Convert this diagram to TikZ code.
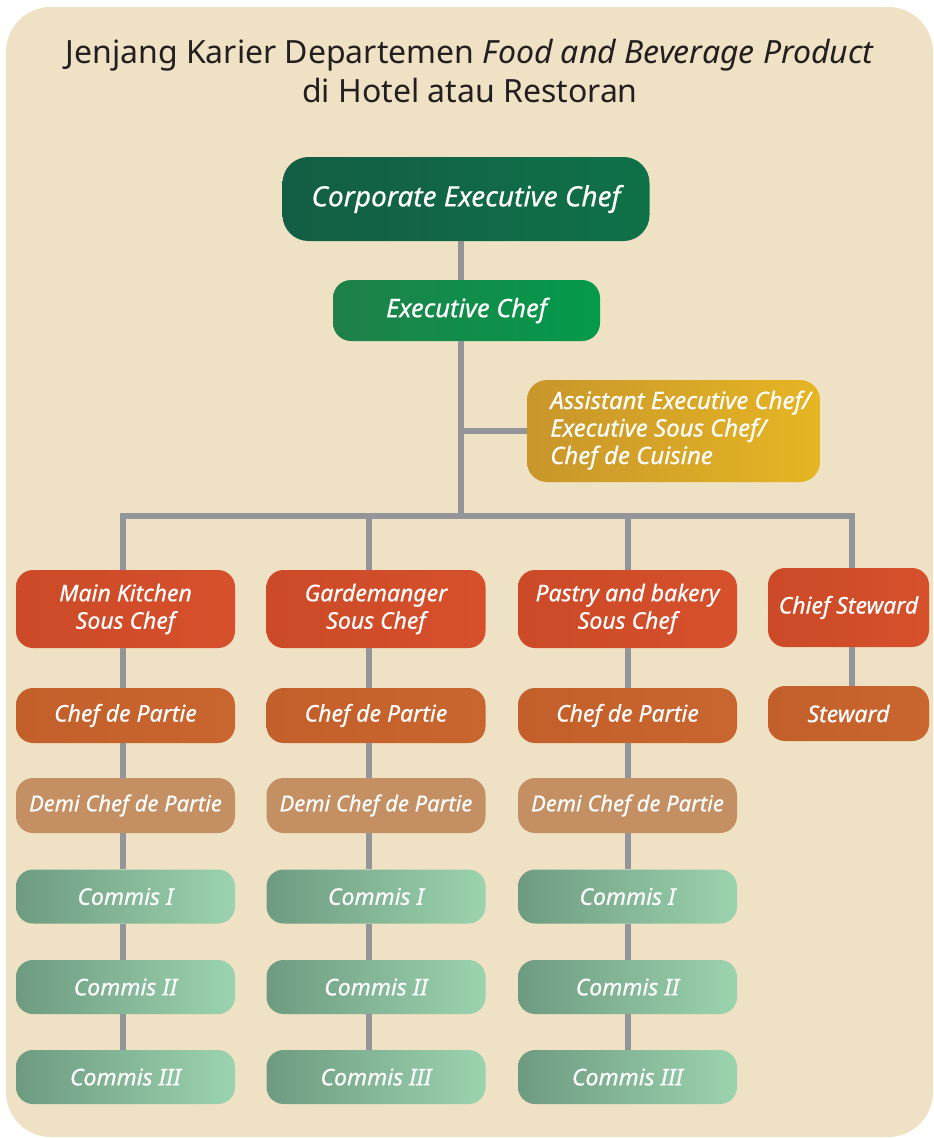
\documentclass[tikz,border=0pt]{standalone}
\usepackage{fontspec}
\setmainfont{Noto Sans}
\newfontfamily\boxfont[FakeBold=0.5]{Noto Sans}
\definecolor{bgpanel}{HTML}{EFE1C3}
\definecolor{conn}{HTML}{939598}
\definecolor{ttl}{HTML}{231F20}
\definecolor{ceoL}{HTML}{135E45}
\definecolor{ceoR}{HTML}{0F7148}
\definecolor{ecL}{HTML}{1F8049}
\definecolor{ecR}{HTML}{039A4B}
\definecolor{asL}{HTML}{C8962B}
\definecolor{asR}{HTML}{E6B523}
\definecolor{ssL}{HTML}{CC4A28}
\definecolor{ssR}{HTML}{D6502B}
\definecolor{cpL}{HTML}{C35F2A}
\definecolor{cpR}{HTML}{C9662F}
\definecolor{dmC}{HTML}{C49063}
\definecolor{cmL}{HTML}{6E9B80}
\definecolor{cmR}{HTML}{9BD3AF}
\begin{document}
\begin{tikzpicture}[x=1pt,y=-1pt,
  box/.style={rounded corners=17pt, text=white, inner sep=0pt, align=center,
    font=\boxfont\fontsize{23}{27.5}\selectfont\itshape},
  wcol/.style={minimum width=219pt},
  wnar/.style={minimum width=161pt},
  sous/.style={box, left color=ssL, right color=ssR, minimum height=78pt},
  cdp/.style={box, left color=cpL, right color=cpR, minimum height=55pt},
  demi/.style={box, fill=dmC, minimum height=55pt, font=\boxfont\fontsize{22}{27}\selectfont\itshape},
  commis/.style={box, left color=cmL, right color=cmR, minimum height=54pt},
  link/.style={draw=conn, line width=5.5pt}]
\useasboundingbox (0,0) rectangle (934,1138);
\fill[white] (0,0) rectangle (934,1138);
\fill[bgpanel, rounded corners=45pt] (6,7) rectangle (933,1137);

\node[font=\fontsize{32}{39}\selectfont, text=ttl, align=center] (title) at (470,71)
  {Jenjang Karier Departemen \textit{Food and Beverage Product}\\di Hotel atau Restoran};

\node[box, rounded corners=26pt, left color=ceoL, right color=ceoR, minimum width=367pt,
  minimum height=84pt, font=\boxfont\fontsize{28}{32}\selectfont\itshape] (ceo) at (466,199) {Corporate Executive Chef};
\node[box, rounded corners=18pt, left color=ecL, right color=ecR, minimum width=267pt,
  minimum height=61pt, font=\boxfont\fontsize{25.5}{30}\selectfont\itshape] (ec) at (466.5,310.5) {Executive Chef};
\node[rounded corners=20pt, text=white, inner sep=0pt, left color=asL, right color=asR, minimum width=293pt,
  minimum height=102pt, font=\boxfont\fontsize{24}{27.5}\selectfont\itshape] (asst) at (673.5,431)
  {\hspace*{14pt}\raisebox{-5pt}{\begin{tabular}{@{}l@{}}Assistant Executive Chef/\\Executive Sous Chef/\\Chef de Cuisine\end{tabular}}};

\coordinate (spine) at (461,0);
\coordinate (d1) at (123,516);
\coordinate (d2) at (369,516);
\coordinate (d3) at (628,516);
\coordinate (d4) at (852,516);

% column 1
\node[sous, wcol] (s1) at (125.5,609) {Main Kitchen\\Sous Chef};
\node[cdp, wcol] (p1) at (125.5,715.5) {Chef de Partie};
\node[demi, wcol] (m1) at (125.5,805.5) {Demi Chef de Partie};
\node[commis, wcol] (a1) at (125.5,896.5) {Commis I};
\node[commis, wcol] (b1) at (125.5,987) {Commis II};
\node[commis, wcol] (c1) at (125.5,1077) {Commis III};
% column 2
\node[sous, wcol] (s2) at (376,609) {Gardemanger\\Sous Chef};
\node[cdp, wcol] (p2) at (376,715.5) {Chef de Partie};
\node[demi, wcol] (m2) at (376,805.5) {Demi Chef de Partie};
\node[commis, wcol] (a2) at (376,896.5) {Commis I};
\node[commis, wcol] (b2) at (376,987) {Commis II};
\node[commis, wcol] (c2) at (376,1077) {Commis III};
% column 3
\node[sous, wcol] (s3) at (627.5,609) {Pastry and bakery\\Sous Chef};
\node[cdp, wcol] (p3) at (627.5,715.5) {Chef de Partie};
\node[demi, wcol] (m3) at (627.5,805.5) {Demi Chef de Partie};
\node[commis, wcol] (a3) at (627.5,896.5) {Commis I};
\node[commis, wcol] (b3) at (627.5,987) {Commis II};
\node[commis, wcol] (c3) at (627.5,1077) {Commis III};
% column 4
\node[sous, wnar, minimum height=79pt] (s4) at (848.5,607.5) {Chief Steward};
\node[cdp, wnar] (p4) at (848.5,713.5) {Steward};

% connectors
\path[link] (ceo.south -| spine) -- (ec.north -| spine);
\path[link] (ec.south -| spine) -- (spine |- d1);
\path[link] (spine |- asst.west) -- (asst.west);
\path[link] (s1.north -| d1) -- (d1) -- (d4) -- (s4.north -| d4);
\path[link] (d2) -- (s2.north -| d2);
\path[link] (d3) -- (s3.north -| d3);
\foreach \c/\d in {1/d1,2/d2,3/d3}{
  \path[link] (s\c.south -| \d) -- (p\c.north -| \d);
  \path[link] (p\c.south -| \d) -- (m\c.north -| \d);
  \path[link] (m\c.south -| \d) -- (a\c.north -| \d);
  \path[link] (a\c.south -| \d) -- (b\c.north -| \d);
  \path[link] (b\c.south -| \d) -- (c\c.north -| \d);
}
\path[link] (s4.south -| d4) -- (p4.north -| d4);
\end{tikzpicture}
\end{document}
